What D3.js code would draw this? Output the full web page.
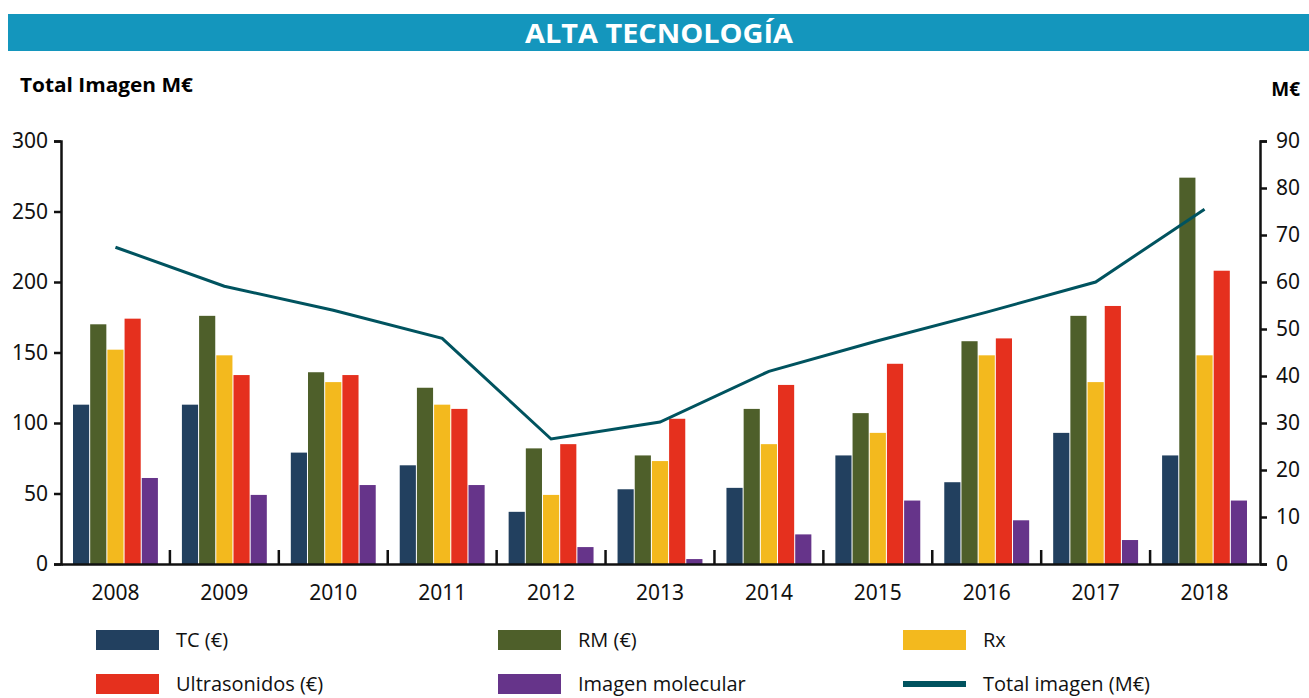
<!DOCTYPE html>
<html>
<head>
<meta charset="utf-8">
<script src="https://cdn.jsdelivr.net/npm/d3@7"></script>
<style>
  body { margin: 0; background: #fff; }
  .tick text { font-family: "Noto Sans", sans-serif; }
</style>
</head>
<body>
<div id="chart"></div>
<script>
var svgWidth = 1309;
var svgHeight = 698;

// data
var years = ["2008", "2009", "2010", "2011", "2012", "2013", "2014", "2015", "2016", "2017", "2018"];
var tc = [113, 113, 79, 70, 37, 53, 54, 77, 58, 93, 77];
var rm = [170, 176, 136, 125, 82, 77, 110, 107, 158, 176, 274];
var rx = [152, 148, 129, 113, 49, 73, 85, 93, 148, 129, 148];
var ultrasonidos = [174, 134, 134, 110, 85, 103, 127, 142, 160, 183, 208];
var molecular = [61, 49, 56, 56, 12, 3.5, 21, 45, 31, 17, 45];
var totalImagen = [67.4, 59.1, 54, 48, 26.6, 30.2, 41, 47.5, 53.6, 60, 75.5];

var leftTicks = [0, 50, 100, 150, 200, 250, 300];
var rightTicks = [0, 10, 20, 30, 40, 50, 60, 70, 80, 90];

var seriesNames = ["TC (€)", "RM (€)", "Rx", "Ultrasonidos (€)", "Imagen molecular"];
var seriesColors = ["#22405f", "#4e5f2a", "#f3b91e", "#e5301e", "#66348a"];
var lineColor = "#00535f";

var margin = { top: 141, left: 61 };
var plotRight = 1259;
var plotBottom = 564;

var svg = d3.select("#chart")
  .append("svg")
  .attr("width", svgWidth)
  .attr("height", svgHeight);

// title banner
svg.append("rect")
  .attr("x", 8)
  .attr("y", 14)
  .attr("width", svgWidth - 8)
  .attr("height", 37)
  .attr("fill", "#1496bd");

svg.append("text")
  .attr("x", 659)
  .attr("y", 43)
  .attr("text-anchor", "middle")
  .attr("fill", "#fff")
  .attr("font-family", "Open Sans, sans-serif")
  .attr("font-weight", "bold")
  .attr("font-size", 26)
  .attr("textLength", 268)
  .attr("lengthAdjust", "spacingAndGlyphs")
  .text("ALTA TECNOLOGÍA");

svg.append("text")
  .attr("x", 20)
  .attr("y", 92)
  .attr("font-family", "Open Sans, sans-serif")
  .attr("font-weight", "bold")
  .attr("font-size", 19)
  .attr("textLength", 173)
  .attr("lengthAdjust", "spacingAndGlyphs")
  .text("Total Imagen M€");

svg.append("text")
  .attr("x", 1300)
  .attr("y", 96)
  .attr("text-anchor", "end")
  .attr("font-family", "Open Sans, sans-serif")
  .attr("font-weight", "bold")
  .attr("font-size", 19)
  .text("M€");

// scales
var x0 = d3.scaleBand()
  .domain(years)
  .range([margin.left, plotRight]);

var x1 = d3.scaleBand()
  .domain(d3.range(seriesNames.length))
  .range([12, x0.bandwidth() - 12])
  .paddingInner(0.06);

var yLeft = d3.scaleLinear()
  .domain([0, 300])
  .range([plotBottom, margin.top]);

var yRight = d3.scaleLinear()
  .domain([0, 90])
  .range([plotBottom, margin.top]);

// bars
var seriesValues = [tc, rm, rx, ultrasonidos, molecular];

var groups = svg.append("g")
  .selectAll("g")
  .data(years)
  .enter()
  .append("g")
  .attr("transform", d => `translate(${x0(d)}, 0)`);

groups.selectAll("rect")
  .data((d, i) => seriesValues.map((vals, s) => ({ s: s, v: vals[i] })))
  .enter()
  .append("rect")
  .attr("x", d => x1(d.s))
  .attr("y", d => yLeft(d.v))
  .attr("width", x1.bandwidth())
  .attr("height", d => plotBottom - yLeft(d.v))
  .attr("fill", d => seriesColors[d.s]);

// total line (right axis)
var line = d3.line()
  .x((d, i) => x0(years[i]) + x0.bandwidth() / 2)
  .y(d => yRight(d));

svg.append("path")
  .datum(totalImagen)
  .attr("d", line)
  .attr("fill", "none")
  .attr("stroke", lineColor)
  .attr("stroke-width", 3);

// axes
var leftAxis = d3.axisLeft(yLeft)
  .tickValues(leftTicks)
  .tickSize(7)
  .tickPadding(6);

var rightAxis = d3.axisRight(yRight)
  .tickValues(rightTicks)
  .tickSize(7)
  .tickPadding(9);

var bottomAxis = d3.axisBottom(x0)
  .tickSize(0)
  .tickPadding(21);

var yAxisL = svg.append("g")
  .attr("transform", `translate(${margin.left}, 0)`)
  .call(leftAxis);

var yAxisR = svg.append("g")
  .attr("transform", `translate(${plotRight + 1}, 0)`)
  .call(rightAxis);

var xAxis = svg.append("g")
  .attr("transform", `translate(0, ${plotBottom})`)
  .call(bottomAxis);

[yAxisL, yAxisR, xAxis].forEach(function(ax) {
  ax.select(".domain").attr("stroke", "#111").attr("stroke-width", 2.5);
  ax.selectAll(".tick line").attr("stroke", "#111").attr("stroke-width", 2.5);
  ax.selectAll(".tick text")
    .attr("font-size", 21)
    .attr("fill", "#111");
});

// small upward ticks between year groups
svg.append("g")
  .selectAll("line")
  .data(years.slice(1))
  .enter()
  .append("line")
  .attr("x1", d => x0(d))
  .attr("x2", d => x0(d))
  .attr("y1", plotBottom)
  .attr("y2", plotBottom - 14)
  .attr("stroke", "#111")
  .attr("stroke-width", 2.5);

// legend
var legendItems = seriesNames.map((n, i) => ({ name: n, color: seriesColors[i], type: "bar" }));
legendItems.push({ name: "Total imagen (M€)", color: lineColor, type: "line" });

var legendCols = [96, 498, 903];
var legendRows = [630, 674];

var legend = svg.append("g")
  .selectAll("g")
  .data(legendItems)
  .enter()
  .append("g")
  .attr("transform", (d, i) => `translate(${legendCols[i % 3]}, ${legendRows[Math.floor(i / 3)]})`);

legend.append("rect")
  .attr("x", 0)
  .attr("y", d => d.type === "line" ? 7 : 0)
  .attr("width", 63)
  .attr("height", d => d.type === "line" ? 6 : 20)
  .attr("fill", d => d.color);

legend.append("text")
  .attr("x", 80)
  .attr("y", 17)
  .attr("font-family", "Open Sans, sans-serif")
  .attr("font-size", 20)
  .attr("fill", "#111")
  .text(d => d.name);
</script>
</body>
</html>
